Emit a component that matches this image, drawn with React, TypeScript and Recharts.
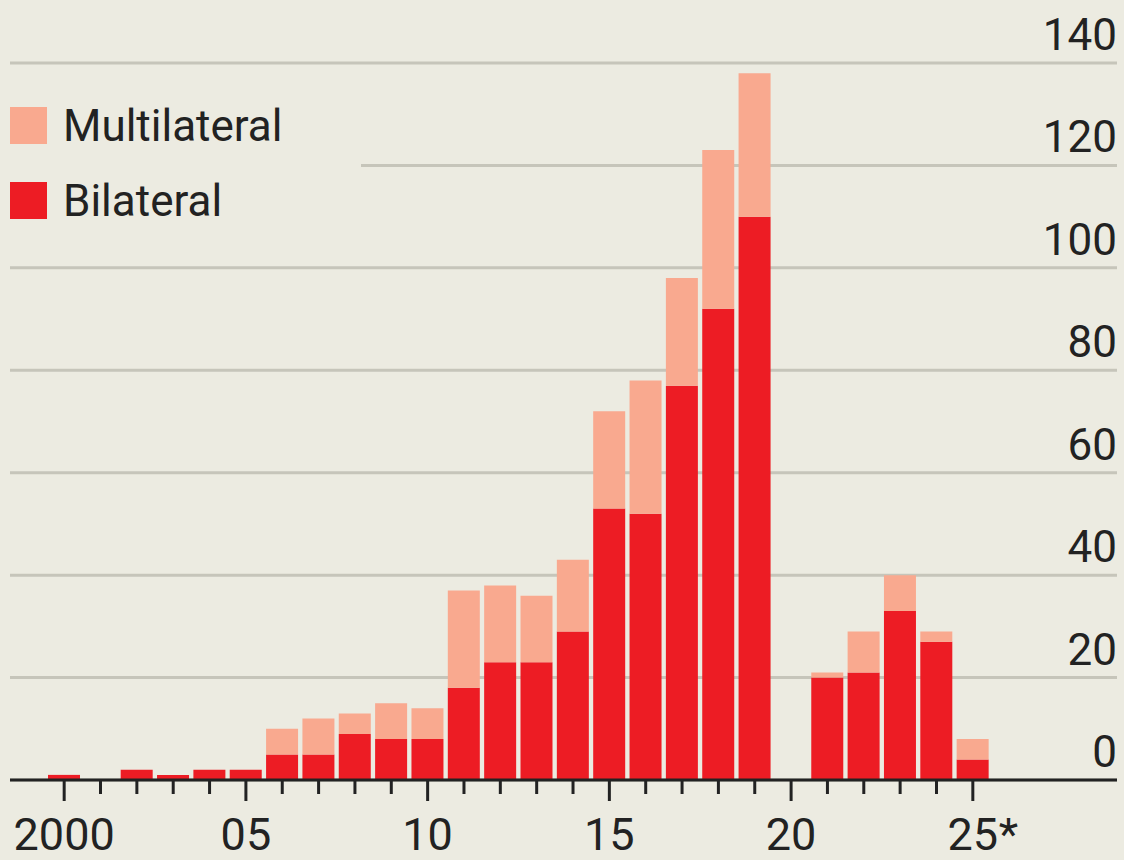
import React from 'react';
import { BarChart, Bar, XAxis, YAxis, CartesianGrid, Legend } from 'recharts';

const years = [
  2000, 2001, 2002, 2003, 2004, 2005, 2006, 2007, 2008, 2009, 2010, 2011, 2012,
  2013, 2014, 2015, 2016, 2017, 2018, 2019, 2020, 2021, 2022, 2023, 2024, 2025,
];
const bilateral = [1, 0, 2, 1, 2, 2, 5, 5, 9, 8, 8, 18, 23, 23, 29, 53, 52, 77, 92, 110, 0, 20, 21, 33, 27, 4];
const multilateral = [0, 0, 0, 0, 0, 0, 5, 7, 4, 7, 6, 19, 15, 13, 14, 19, 26, 21, 31, 28, 0, 1, 8, 7, 2, 4];
const yTicks = [0, 20, 40, 60, 80, 100, 120, 140];
const yearLabels: Record<number, string> = { 2000: '2000', 2005: '05', 2010: '10', 2015: '15', 2020: '20', 2025: '25' };
const footnoteMark = '*';

const BG = '#ecebe1';
const INK = '#222222';
const FONT = 'Roboto, "Liberation Sans", sans-serif';

const data = years.map((year, i) => ({
  year,
  bilateral: bilateral[i],
  multilateral: multilateral[i],
}));

const YearTick = (props: any) => {
  const { x, y, payload } = props;
  const label = yearLabels[payload.value];
  const major = label !== undefined;
  return (
    <g>
      <line x1={x} x2={x} y1={y} y2={y + (major ? 21 : 14)} stroke={INK} strokeWidth={3} />
      {major && (
        <text x={x} y={y + 70} textAnchor="middle" fontSize={45} fill={INK} fontFamily={FONT}>
          {label}
        </text>
      )}
      {payload.value === 2025 && (
        <text x={x + 26} y={y + 70} textAnchor="start" fontSize={45} fill={INK} fontFamily={FONT}>
          {footnoteMark}
        </text>
      )}
    </g>
  );
};

// labels sit just above their gridline, flush with the right edge
const ValueTick = (props: any) => {
  const { y, payload } = props;
  return (
    <text x={1117} y={y - 13} textAnchor="end" fontSize={44} fill={INK} fontFamily={FONT}>
      {payload.value}
    </text>
  );
};

const LegendBox = () => (
  <div style={{ background: BG, width: 361, height: 140, fontFamily: FONT, color: INK }}>
    {[
      { name: 'Multilateral', color: '#f9a98f' },
      { name: 'Bilateral', color: '#ed1c24' },
    ].map((item) => (
      <div key={item.name} style={{ display: 'flex', alignItems: 'center', height: 75 }}>
        <div style={{ width: 37, height: 37, background: item.color, marginLeft: 10 }} />
        <span style={{ fontSize: 44, marginLeft: 16 }}>{item.name}</span>
      </div>
    ))}
  </div>
);

export default function App() {
  return (
    <div style={{ width: 1124, height: 860, background: BG }}>
      <style>{`body{margin:0;background:${BG};}`}</style>
      <BarChart
        width={1124}
        height={860}
        data={data}
        margin={{ top: 63, right: 6, bottom: 0, left: 10 }}
        barSize={32}
      >
        <CartesianGrid vertical={false} stroke="#c6c5ba" strokeWidth={3} />
        <XAxis
          dataKey="year"
          height={80}
          tick={<YearTick />}
          tickSize={0}
          tickMargin={0}
          interval={0}
          padding={{ left: 36, right: 126 }}
          axisLine={{ stroke: INK, strokeWidth: 3 }}
          tickLine={false}
        />
        <YAxis
          orientation="right"
          width={1}
          domain={[0, 140]}
          ticks={yTicks}
          interval={0}
          tick={<ValueTick />}
          axisLine={false}
          tickLine={false}
        />
        <Legend
          layout="vertical"
          align="center"
          verticalAlign="middle"
          content={<LegendBox />}
          wrapperStyle={{ position: 'absolute', top: 88, left: 0, width: 361 }}
        />
        <Bar dataKey="bilateral" stackId="a" fill="#ed1c24" isAnimationActive={false} />
        <Bar dataKey="multilateral" stackId="a" fill="#f9a98f" isAnimationActive={false} />
      </BarChart>
    </div>
  );
}
